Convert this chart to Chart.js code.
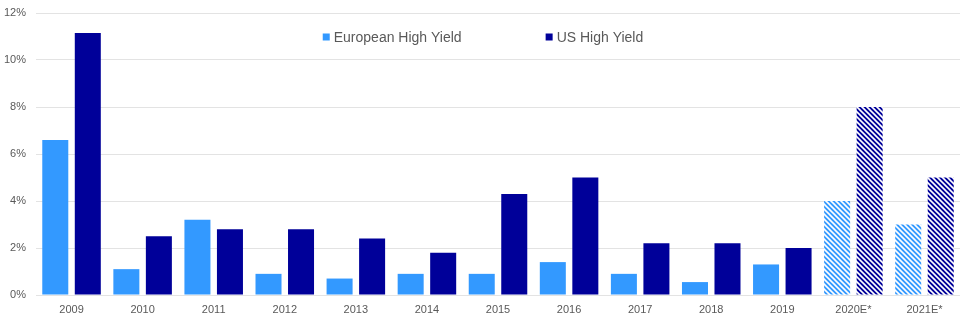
<!DOCTYPE html>
<html>
<head>
<meta charset="utf-8">
<script src="https://cdn.jsdelivr.net/npm/chart.js@4/dist/chart.umd.min.js"></script>
<style>
  html, body { margin: 0; padding: 0; background: #fff; }
  #wrap { width: 960px; height: 322px; }
</style>
</head>
<body>
<div id="wrap"><canvas id="defaults"></canvas></div>
<script>
// default rates by year, % (E* = estimate)
const years = ["2009", "2010", "2011", "2012", "2013", "2014", "2015", "2016", "2017", "2018", "2019", "2020E*", "2021E*"];
const europeanHY = [6.6, 1.1, 3.2, 0.9, 0.7, 0.9, 0.9, 1.4, 0.9, 0.55, 1.3, 4.0, 3.0];
const usHY = [11.15, 2.5, 2.8, 2.8, 2.4, 1.8, 4.3, 5.0, 2.2, 2.2, 2.0, 8.0, 5.0];
const yTicks = [0, 2, 4, 6, 8, 10, 12];

const EU_BLUE = "#3399ff";
const US_NAVY = "#000099";
const TEXT = "#595959";
const GRID = "#e3e3e3";

// white diagonal stripes over the base colour, used for the estimate years
function hatch(color) {
  const s = 5;
  const c = document.createElement("canvas");
  c.width = s; c.height = s;
  const g = c.getContext("2d");
  g.fillStyle = color;
  g.fillRect(0, 0, s, s);
  g.strokeStyle = "#ffffff";
  g.lineWidth = 1.6;
  g.beginPath();
  g.moveTo(-1, -1); g.lineTo(s + 1, s + 1);
  g.moveTo(-2, s - 2); g.lineTo(2, s + 2);
  g.moveTo(s - 2, -2); g.lineTo(s + 2, 2);
  g.stroke();
  return g.createPattern(c, "repeat");
}

const isEstimate = (label) => label.endsWith("E*");
const fills = (color) => {
  const pattern = hatch(color);
  return years.map(y => (isEstimate(y) ? pattern : color));
};

// legend drawn inside the plot, between the top two grid lines
const innerLegend = {
  id: "innerLegend",
  afterDraw(chart) {
    const ctx = chart.ctx;
    const area = chart.chartArea;
    const box = 7, gapText = 4, gapItems = 84;
    ctx.save();
    ctx.font = "14px 'Liberation Sans', Arial, sans-serif";
    ctx.textBaseline = "middle";
    const items = chart.data.datasets.map(ds => ({
      text: ds.label,
      color: ds.legendColor,
      w: box + gapText + ctx.measureText(ds.label).width
    }));
    const total = items.reduce((s, it) => s + it.w, 0) + gapItems * (items.length - 1);
    let x = (area.left + area.right) / 2 - 15 - total / 2;
    const y = area.top + 24;
    items.forEach(it => {
      ctx.fillStyle = it.color;
      ctx.fillRect(x, y - box / 2, box, box);
      ctx.fillStyle = TEXT;
      ctx.fillText(it.text, x + box + gapText, y + 1);
      x += it.w + gapItems;
    });
    ctx.restore();
  }
};

new Chart(document.getElementById("defaults"), {
  type: "bar",
  data: {
    labels: years,
    datasets: [
      {
        label: "European High Yield",
        data: europeanHY,
        backgroundColor: fills(EU_BLUE),
        legendColor: EU_BLUE,
        categoryPercentage: 0.915,
        barPercentage: 0.8
      },
      {
        label: "US High Yield",
        data: usHY,
        backgroundColor: fills(US_NAVY),
        legendColor: US_NAVY,
        categoryPercentage: 0.915,
        barPercentage: 0.8
      }
    ]
  },
  options: {
    responsive: true,
    maintainAspectRatio: false,
    animation: false,
    layout: { padding: { top: 13, right: 0, left: 0, bottom: 0 } },
    plugins: {
      legend: { display: false },
      tooltip: { enabled: false }
    },
    scales: {
      x: {
        grid: { display: false },
        border: { display: true, color: GRID },
        ticks: {
          color: TEXT,
          padding: 0,
          maxRotation: 0,
          font: { family: "'Liberation Sans', Arial, sans-serif", size: 11 }
        },
        afterFit(scale) { scale.height = 27; }
      },
      y: {
        min: 0,
        max: 12,
        afterBuildTicks(scale) { scale.ticks = yTicks.map(v => ({ value: v })); },
        // invisible tick marks push the labels away from the plot
        grid: { color: GRID, drawTicks: true, tickLength: 7, tickColor: "rgba(0,0,0,0)" },
        border: { display: false },
        ticks: {
          color: TEXT,
          padding: 3,
          font: { family: "'Liberation Sans', Arial, sans-serif", size: 11 },
          callback: (v) => v + "%"
        },
        afterFit(scale) { scale.width = 36; }
      }
    }
  },
  plugins: [innerLegend]
});
</script>
</body>
</html>
